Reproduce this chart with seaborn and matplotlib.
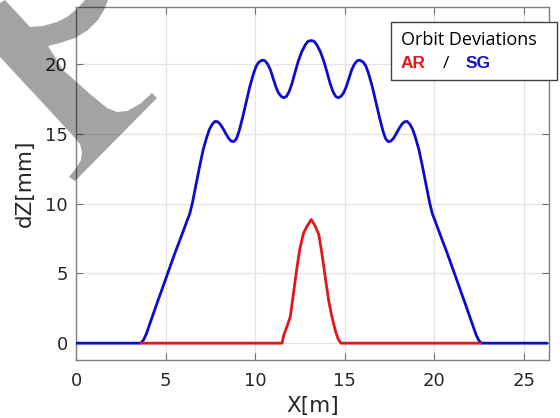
import numpy as np
import pandas as pd
import matplotlib
matplotlib.use("Agg")
import matplotlib.pyplot as plt
import seaborn as sns
from matplotlib.patches import Rectangle, Polygon

# ---- data ----
sg_x = [0, 3.6, 3.75, 3.9, 4.2, 4.5, 5.0, 5.5, 6.0, 6.2, 6.35, 6.5, 6.7, 6.9, 7.1, 7.3,
        7.45, 7.6, 7.75, 7.9, 8.05, 8.2, 8.35, 8.5, 8.65, 8.8, 8.95, 9.1, 9.3, 9.5, 9.7,
        9.9, 10.05, 10.2, 10.4, 10.55, 10.7, 10.85, 11.0, 11.15, 11.3, 11.45, 11.6, 11.75,
        11.9, 12.05, 12.2, 12.4, 12.6, 12.8, 12.95, 13.12,
        13.29, 13.44, 13.64, 13.84, 14.04, 14.19, 14.34, 14.49, 14.64, 14.79, 14.94,
        15.09, 15.24, 15.39, 15.54, 15.69, 15.84, 16.04, 16.19, 16.34, 16.54, 16.74,
        16.94, 17.14, 17.29, 17.44, 17.59, 17.74, 17.89, 18.04, 18.19, 18.34, 18.49,
        18.64, 18.79, 18.94, 19.14, 19.34, 19.54, 19.74, 19.89, 20.04, 20.24, 20.74,
        21.24, 21.74, 22.04, 22.34, 22.49, 22.64, 26.3]
sg_y = [0, 0, 0.2, 0.6, 1.7, 2.8, 4.6, 6.4, 8.1, 8.8, 9.3, 10.1, 11.4, 12.7, 13.9, 14.8,
        15.35, 15.7, 15.9, 15.88, 15.7, 15.4, 15.05, 14.72, 14.5, 14.45, 14.65, 15.2, 16.2,
        17.3, 18.4, 19.3, 19.85, 20.15, 20.3, 20.25, 20.0, 19.6, 19.0, 18.4, 17.95, 17.7,
        17.6, 17.7, 18.05, 18.6, 19.3, 20.2, 20.9, 21.4, 21.65, 21.7,
        21.65, 21.4, 20.9, 20.2, 19.3, 18.6, 18.05, 17.7, 17.6, 17.7, 17.95,
        18.4, 19.0, 19.6, 20.0, 20.25, 20.3, 20.15, 19.85, 19.3, 18.4, 17.3,
        16.2, 15.2, 14.65, 14.45, 14.5, 14.72, 15.05, 15.4, 15.7, 15.88, 15.9,
        15.7, 15.35, 14.8, 13.9, 12.7, 11.4, 10.1, 9.3, 8.8, 8.1, 6.4,
        4.6, 2.8, 1.7, 0.6, 0.2, 0, 0]
ar_x = [3.6, 11.5, 11.6, 11.75, 11.96, 12.1, 12.33, 12.5, 12.7, 12.9, 13.13, 13.35,
        13.55, 13.73, 13.91, 14.1, 14.25, 14.38, 14.5, 14.65, 14.79, 22.6]
ar_y = [0, 0, 0.6, 1.1, 1.9, 3.2, 5.4, 6.8, 7.9, 8.4, 8.87, 8.4,
        7.8, 6.4, 4.75, 3.1, 2.1, 1.4, 0.8, 0.25, 0, 0]
x_ticks = [0, 5, 10, 15, 20, 25]
y_ticks = [0, 5, 10, 15, 20]

BLUE = "#0c0cce"
RED = "#e6141b"

sns.set_theme(style="white")
plt.rcParams["font.family"] = ["DejaVu Sans"]

fig = plt.figure(figsize=(5.6, 4.18), dpi=100)
ax = fig.add_axes([0.136, 0.139, 0.980 - 0.136, 0.983 - 0.139])

df_sg = pd.DataFrame({"x": sg_x, "y": sg_y})
df_ar = pd.DataFrame({"x": ar_x, "y": ar_y})
sns.lineplot(data=df_sg, x="x", y="y", ax=ax, color=BLUE, lw=2.0, sort=False,
             estimator=None, zorder=3)
sns.lineplot(data=df_ar, x="x", y="y", ax=ax, color=RED, lw=2.0, sort=False,
             estimator=None, zorder=4)

ax.set_xlim(0, 26.4)
ax.set_ylim(-1.2, 24.1)
ax.set_xticks(x_ticks)
ax.set_yticks(y_ticks)
ax.set_xticklabels([str(t) for t in x_ticks])
ax.set_yticklabels([str(t) for t in y_ticks])
ax.grid(True, color="#e3e3e3", lw=0.9)
ax.set_axisbelow(True)
ax.tick_params(direction="in", length=5, width=0.8, color="#707070",
               labelsize=13, labelcolor="#262626", top=True, right=True,
               bottom=True, left=True)
ax.tick_params(axis="x", pad=9)
ax.tick_params(axis="y", pad=6)
for s in ax.spines.values():
    s.set_color("#808080")
    s.set_linewidth(1.0)
ax.set_xlabel("X[m]", fontsize=15.5, color="#262626", labelpad=4)
ax.set_ylabel("dZ[mm]", fontsize=15.5, color="#262626", labelpad=7)

W, H = 560, 418
def fx(px):
    return px / W
def fy(py):
    return 1 - py / H

# annotation box (top right)
fig.patches.append(Rectangle((fx(391), fy(80)), fx(557) - fx(391), fy(22) - fy(80),
                             transform=fig.transFigure, facecolor="white",
                             edgecolor="#404040", lw=1.0, zorder=5))
tf = ["Open Sans", "DejaVu Sans"]
bf = ["Liberation Sans", "DejaVu Sans"]
fig.text(fx(401), fy(45), "Orbit Deviations", fontsize=13, family=tf, color="black",
         va="baseline", ha="left", zorder=6)
fig.text(fx(401), fy(68), "AR", fontsize=12.5, family=bf, color=RED, weight="bold",
         va="baseline", ha="left", zorder=6)
fig.text(fx(443), fy(68), "/", fontsize=12.5, family=tf, color="black",
         va="baseline", ha="left", zorder=6)
fig.text(fx(466), fy(68), "SG", fontsize=12.5, family=bf, color="#1414c0", weight="bold",
         va="baseline", ha="left", zorder=6)

# grey watermark fragment in the top-left corner (decoration)
wm = [(0, 3), (5, 0), (30, 27), (43, 26), (57, 22), (67, 17), (78, 8), (85, 0),
      (108, 0), (104, 10), (98, 20), (88, 30), (75, 38), (60, 43), (48, 46),
      (63, 70), (90, 94), (107, 108), (117, 112), (127, 111), (140, 104), (152, 93),
      (157, 98), (75, 181), (69, 177), (77, 167), (81, 160), (82, 152), (80, 144),
      (75, 138), (40, 100), (0, 57)]
fig.patches.append(Polygon([(fx(a), fy(b)) for a, b in wm], closed=True,
                           transform=fig.transFigure, facecolor="black",
                           alpha=0.36, edgecolor="none", zorder=10))

fig.savefig("out.png", dpi=100)
